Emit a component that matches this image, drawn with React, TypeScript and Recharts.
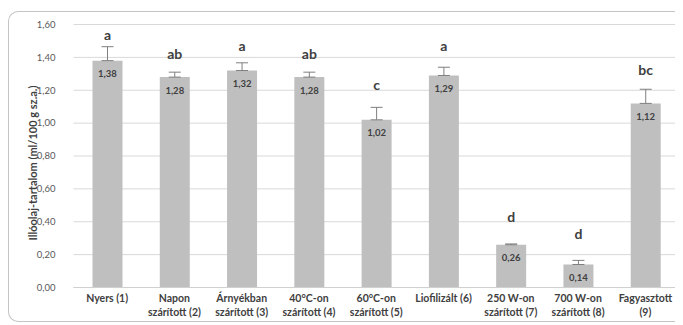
import React from "react";
import { BarChart, Bar, XAxis, YAxis, CartesianGrid, ErrorBar, LabelList } from "recharts";

const categories = [
  "Nyers (1)",
  "Napon\nszárított (2)",
  "Árnyékban\nszárított (3)",
  "40°C-on\nszárított (4)",
  "60°C-on\nszárított (5)",
  "Liofilizált (6)",
  "250 W-on\nszárított (7)",
  "700 W-on\nszárított (8)",
  "Fagyasztott\n(9)",
];
const values = [1.38, 1.28, 1.32, 1.28, 1.02, 1.29, 0.26, 0.14, 1.12];
const errors = [0.085, 0.03, 0.047, 0.03, 0.076, 0.05, 0.005, 0.025, 0.086];
const letters = ["a", "ab", "a", "ab", "c", "a", "d", "d", "bc"];
const letterLevels = [1.542, 1.425, 1.475, 1.425, 1.232, 1.475, 0.431, 0.331, 1.327];
const yTicks = [0, 0.2, 0.4, 0.6, 0.8, 1.0, 1.2, 1.4, 1.6];
const yTitle = "Illóolaj-tartalom (ml/100 g sz.a.)";

const data = categories.map((c, i) => ({
  name: c,
  value: values[i],
  err: [0, errors[i]],
  letter: letters[i],
  level: letterLevels[i],
}));

const FONT = "Lato, 'Open Sans', sans-serif";
const fmt = (v: number) => v.toFixed(2).replace(".", ",");

const XTick = (props: any) => {
  const { x, y, payload } = props;
  const lines = String(payload.value).split("\n");
  return (
    <text x={x} y={y} textAnchor="middle" fontFamily={FONT} fontSize={10.5} fontWeight={700} fill="#404040">
      {lines.map((l, i) => (
        <tspan key={i} x={x} dy={i === 0 ? 6 : 14}>{l}</tspan>
      ))}
    </text>
  );
};

const ValueLabel = (props: any) => {
  const { x, y, width, value } = props;
  return (
    <text x={x + width / 2} y={y + 13} textAnchor="middle" dominantBaseline="central" fontFamily={FONT} fontSize={9.5} fontWeight={700} fill="#404040">
      {fmt(value)}
    </text>
  );
};

const LetterLabel = (props: any) => {
  const { x, y, width, height, index } = props;
  const v = values[index];
  const ppu = height / v;
  const ly = y + height - letterLevels[index] * ppu;
  return (
    <text x={x + width / 2} y={ly} textAnchor="middle" dominantBaseline="central" fontFamily={FONT} fontSize={14} fontWeight={700} fill="#404040">
      {letters[index]}
    </text>
  );
};

export default function App() {
  return (
    <div style={{ position: "relative", width: 675, height: 317 }}>
      <div
        style={{
          position: "absolute",
          left: 0,
          top: 3,
          width: 674,
          height: 309,
          borderLeft: "1px solid #c4c4c4",
          borderTop: "1px solid #c4c4c4",
          borderBottom: "1px solid #c4c4c4",
          borderTopLeftRadius: 10,
          borderBottomLeftRadius: 10,
          boxSizing: "content-box",
        }}
      />
      <div style={{ position: "absolute", left: 0, top: 0 }}>
        <BarChart
          width={672}
          height={317}
          data={data}
          margin={{ top: 16.5, right: 1, bottom: 2.5, left: 0 }}
          barCategoryGap={0}
        >
          <CartesianGrid vertical={false} stroke="#d9d9d9" />
          <XAxis
            dataKey="name"
            interval={0}
            tick={<XTick />}
            tickLine={false}
            axisLine={{ stroke: "#d0d0d0" }}
            height={35}
          />
          <YAxis
            domain={[0, 1.6]}
            ticks={yTicks}
            tickFormatter={fmt}
            tickLine={false}
            axisLine={false}
            width={65.5}
            tickMargin={12}
            tick={{ fontFamily: FONT, fontSize: 9.5, fill: "#595959" }}
            label={{
              content: () => (
                <text
                  x={24}
                  y={155}
                  transform="rotate(-90 24 155)"
                  textAnchor="middle"
                  dominantBaseline="central"
                  fontFamily={FONT}
                  fontSize={11}
                  fontWeight={700}
                  fill="#404040"
                >
                  {yTitle}
                </text>
              ),
            }}
          />
          <Bar dataKey="value" fill="#bfbfbf" barSize={30} isAnimationActive={false}>
            <ErrorBar dataKey="err" direction="y" width={6} stroke="#7f7f7f" strokeWidth={1} />
            <LabelList dataKey="value" content={<ValueLabel />} />
            <LabelList dataKey="letter" content={<LetterLabel />} />
          </Bar>
        </BarChart>
      </div>
    </div>
  );
}
